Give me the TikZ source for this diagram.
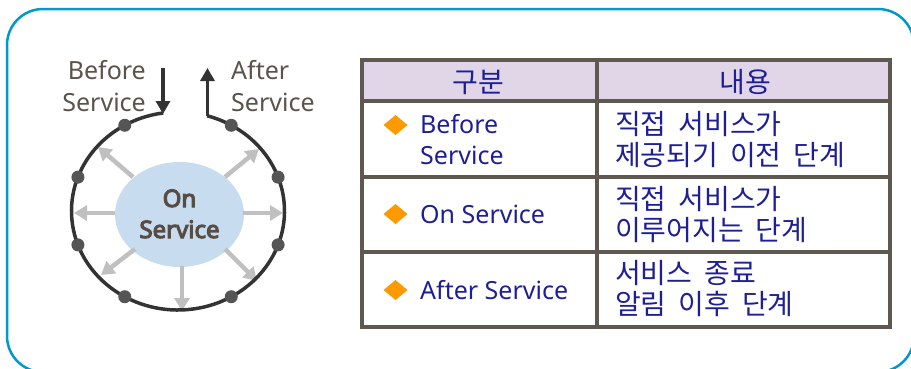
\documentclass[tikz,border=0pt]{standalone}
\usepackage{fontspec}
\setmainfont{Noto Sans}
\newfontfamily\onfont{Noto Sans}[FakeBold=4.5]
\newfontfamily\kr{Noto Sans CJK KR}[WordSpace=1.9]
\usetikzlibrary{arrows.meta,shapes.geometric}
\definecolor{framec}{HTML}{0099CC}
\definecolor{ringc}{HTML}{333333}
\definecolor{dotc}{HTML}{555555}
\definecolor{grayc}{HTML}{C0C0C0}
\definecolor{innerc}{HTML}{C7DCEF}
\definecolor{labc}{HTML}{5A524B}
\definecolor{innertxt}{HTML}{574D45}
\definecolor{hdrc}{HTML}{E0D6E8}
\definecolor{tbc}{HTML}{5F5850}
\definecolor{bluec}{HTML}{1E1E96}
\definecolor{orangec}{HTML}{FF9900}
\tikzset{
  ring/.style={draw=ringc, line width=3.5pt},
  darkarrow/.style={draw=ringc, line width=3.5pt, -{Triangle[width=14pt,length=13pt]}},
  grayarrow/.style={draw=grayc, line width=4.5pt, -{Triangle[width=15pt,length=13pt]}},
  lab/.style={text=labc, font=\fontsize{25}{30}\selectfont, inner sep=0pt},
  intext/.style={text=innertxt, font=\fontsize{24}{29}\onfont, inner sep=0pt},
  latn/.style={text=bluec, font=\fontsize{25}{30}\selectfont, inner sep=0pt, anchor=base west},
  kor/.style={text=bluec, font=\fontsize{28}{33}\kr, inner sep=0pt, anchor=base west},
  korc/.style={text=bluec, font=\fontsize{28}{33}\kr, inner sep=0pt, anchor=base},
  bulletfill/.style={fill=orangec},
  tline/.style={draw=tbc, line width=3.5pt}
}
\newcommand{\orangediamond}[1]{\fill[bulletfill] (#1) +(-12,0) -- +(0,-10) -- +(12,0) -- +(0,10) -- cycle;}
\begin{document}
\begin{tikzpicture}[x=1pt,y=-1pt]
\useasboundingbox (0,0) rectangle (911,368);
% outer frame
\draw[framec, line width=2.5pt, rounded corners=36pt] (7,9) rectangle (914,372);

% ring diagram
\coordinate (c) at (178,211);
\node[ellipse, fill=innerc, minimum width=129pt, minimum height=105pt, inner sep=0pt] (on) at (179.5,214.5) {};
\node[intext, anchor=base] (ont1) at (179.5,207) {On};
\node[intext, anchor=base] (ont2) at (179.5,238) {Service};

\coordinate (g1s) at (133,177); \coordinate (g1e) at (98,147);
\coordinate (g2s) at (225,177); \coordinate (g2e) at (259,149);
\coordinate (g3s) at (115,213); \coordinate (g3e) at (74,213);
\coordinate (g4s) at (243,213); \coordinate (g4e) at (283,213);
\coordinate (g5s) at (135,249); \coordinate (g5e) at (101,275);
\coordinate (g6s) at (225,249); \coordinate (g6e) at (257,281);
\coordinate (g7s) at (182,266); \coordinate (g7e) at (182,311);
\foreach \i in {1,...,7} \draw[grayarrow] (g\i s) -- (g\i e);

\draw[ring] (c) ++(-98:106.5 and 99) arc[start angle=-98, end angle=-434, x radius=106.5, y radius=99];
\foreach \t in {20,60,120,160,200,240,300,340}
  \fill[dotc] (c) ++(-\t:106.5 and 99) circle[radius=6.5pt];

\coordinate (bs) at (163,68); \coordinate (be) at (163,114);
\coordinate (as) at (207.5,116); \coordinate (ae) at (207.5,68);
\draw[darkarrow] (bs) -- (be);
\draw[darkarrow] (as) -- (ae);

\node[lab, anchor=base east] (bl1) at (146,79) {Before};
\node[lab, anchor=base east] (bl2) at (146,111) {Service};
\node[lab, anchor=base west] (al1) at (231,79) {After};
\node[lab, anchor=base west] (al2) at (231,111) {Service};

% table
\fill[hdrc] (362,60) rectangle (890,101);
\draw[tline] (362,60) rectangle (890,327);
\draw[tline] (362,101) -- (890,101);
\draw[tline] (362,177) -- (890,177);
\draw[tline] (362,252) -- (890,252);
\draw[tline] (597,60) -- (597,327);

\node[korc] (h1) at (478,92) {구분};
\node[korc] (h2) at (745,92) {내용};

\coordinate (d1) at (395.5,125); \orangediamond{d1}
\node[latn] (r1a) at (420,133) {Before};
\node[latn] (r1b) at (420,164) {Service};
\node[kor] (r1c) at (615,134) {직접 서비스가};
\node[kor] (r1d) at (615,165) {제공되기 이전 단계};

\coordinate (d2) at (395.5,214); \orangediamond{d2}
\node[latn] (r2a) at (420,223) {On Service};
\node[kor] (r2c) at (615,209) {직접 서비스가};
\node[kor] (r2d) at (615,240) {이루어지는 단계};

\coordinate (d3) at (395.5,290); \orangediamond{d3}
\node[latn] (r3a) at (420,299) {After Service};
\node[kor] (r3c) at (615,283) {서비스 종료};
\node[kor] (r3d) at (615,314) {알림 이후 단계};
\end{tikzpicture}
\end{document}
